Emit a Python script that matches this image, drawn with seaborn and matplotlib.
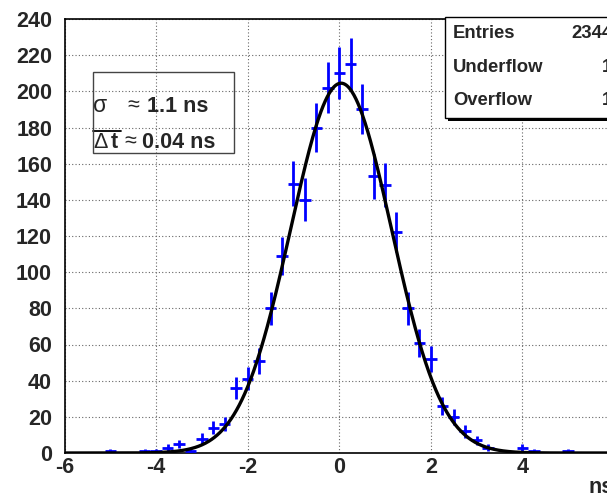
import numpy as np
import pandas as pd
import matplotlib
matplotlib.use("Agg")
import matplotlib.pyplot as plt
from matplotlib.ticker import MultipleLocator
from matplotlib.patches import Rectangle
from matplotlib.lines import Line2D
import seaborn as sns

# ---------------- data ----------------
bin_centers = [-5.0, -4.25, -4.0, -3.75, -3.5, -3.25, -3.0, -2.75, -2.5, -2.25,
               -2.0, -1.75, -1.5, -1.25, -1.0, -0.75, -0.5, -0.25, 0.0, 0.25,
               0.5, 0.75, 1.0, 1.25, 1.5, 1.75, 2.0, 2.25, 2.5, 2.75,
               3.0, 3.25, 4.0, 4.25, 5.0]
counts = [1, 1, 1, 3, 5, 1, 8, 14, 16, 36,
          41, 51, 80, 109, 149, 140, 180, 202, 210, 215,
          190, 153, 148, 122, 80, 61, 52, 26, 20, 12,
          7, 3, 3, 1, 1]
bin_width = 0.25
fit_amplitude = 204.5
fit_mean = 0.04
fit_sigma = 1.1
x_ticks = [-6, -4, -2, 0, 2, 4, 6]
y_ticks = list(range(0, 241, 20))
stats_labels = ["Entries", "Underflow", "Overflow"]
stats_values = ["2344", "1", "1"]
xlabel = "ns"

df = pd.DataFrame({"x": bin_centers, "n": counts})
df["err"] = np.sqrt(df["n"])
fit_x = np.linspace(-6, 6, 800)
fit_df = pd.DataFrame({"x": fit_x,
                       "y": fit_amplitude * np.exp(-0.5 * ((fit_x - fit_mean) / fit_sigma) ** 2)})

# ---------------- style ----------------
sns.set_style("white")
plt.rcParams["font.family"] = ["Liberation Sans", "DejaVu Sans"]
plt.rcParams["axes.unicode_minus"] = False

W, H = 607, 495
fig = plt.figure(figsize=(W / 100, H / 100), dpi=100)
fig.patch.set_facecolor("white")


def fx(px):
    return px / W


def fy(py):
    return 1 - py / H


ax_l, ax_r, ax_t, ax_b = 64.5, 614.0, 19.0, 453.0
ax = fig.add_axes([fx(ax_l), fy(ax_b), fx(ax_r) - fx(ax_l), fy(ax_t) - fy(ax_b)])
ax.set_facecolor("white")

# error bars
ax.errorbar(df["x"], df["n"], yerr=df["err"], xerr=bin_width / 2, fmt="none",
            ecolor="#0000ff", elinewidth=2.0, capsize=0, zorder=3)
# fit curve
sns.lineplot(data=fit_df, x="x", y="y", color="black", linewidth=2.4, ax=ax,
             zorder=4, legend=False)

ax.set_xlim(-6, 6)
ax.set_ylim(0, 240)
ax.set_xticks(x_ticks)
ax.set_xticklabels([str(v) for v in x_ticks], fontweight="bold", fontsize=15.5)
ax.set_yticks(y_ticks)
ax.set_yticklabels([str(v) for v in y_ticks], fontweight="bold", fontsize=15.5)
ax.xaxis.set_minor_locator(MultipleLocator(0.5))
ax.yaxis.set_minor_locator(MultipleLocator(5))
ax.tick_params(which="major", direction="in", length=9, width=1.2, color="black")
ax.tick_params(which="minor", direction="in", length=5.5, width=1.0, color="#333333")
ax.tick_params(axis="x", which="major", pad=3)
ax.tick_params(axis="y", which="major", pad=9)
ax.grid(which="major", linestyle=(0, (1, 2)), color="#666666", linewidth=0.8, zorder=0)
ax.set_axisbelow(True)
for s in ax.spines.values():
    s.set_color("black")
    s.set_linewidth(1.2)
    s.set_visible(True)
ax.set_xlabel(xlabel, fontweight="bold", fontsize=15.5)
ax.set_ylabel("")
ax.xaxis.set_label_coords(1.0, -(477 - ax_b) / (ax_b - ax_t))
ax.xaxis.label.set_horizontalalignment("right")
ax.xaxis.label.set_verticalalignment("top")

# ---------------- left text box ----------------
box = Rectangle((fx(93), fy(152.7)), fx(234) - fx(93), fy(71.7) - fy(152.7),
                transform=fig.transFigure, facecolor="none", edgecolor="#444444",
                linewidth=1.0, zorder=5)
fig.add_artist(box)
tfs = 15.5
fig.text(fx(93), fy(106), "σ", fontsize=tfs + 1, va="center", ha="left")
fig.text(fx(127), fy(106), "≈", fontsize=tfs, va="center", ha="left")
fig.text(fx(147), fy(106), "1.1 ns", fontsize=tfs, fontweight="bold", va="center", ha="left")
fig.text(fx(93), fy(142), "Δ", fontsize=tfs, va="center", ha="left")
fig.text(fx(111), fy(142), "t", fontsize=tfs, fontweight="bold", va="center", ha="left")
fig.text(fx(124), fy(142), "≈", fontsize=tfs, va="center", ha="left")
fig.text(fx(142), fy(142), "0.04 ns", fontsize=tfs, fontweight="bold", va="center", ha="left")
fig.add_artist(Line2D([fx(93), fx(121)], [fy(130.5), fy(130.5)], transform=fig.transFigure,
                      color="black", linewidth=1.3))

# ---------------- stats box ----------------
sb_l, sb_t, sb_r, sb_b = 445, 17, 650, 118
shadow = Rectangle((fx(sb_l + 3), fy(sb_b + 3)), fx(sb_r) - fx(sb_l), fy(sb_t) - fy(sb_b),
                   transform=fig.transFigure, facecolor="black", edgecolor="none", zorder=6)
fig.add_artist(shadow)
sbox = Rectangle((fx(sb_l), fy(sb_b)), fx(sb_r) - fx(sb_l), fy(sb_t) - fy(sb_b),
                 transform=fig.transFigure, facecolor="white", edgecolor="black",
                 linewidth=1.0, zorder=7)
fig.add_artist(sbox)
rows_y = [33.5, 67.5, 100.5]
for lab, val, yy in zip(stats_labels, stats_values, rows_y):
    t1 = fig.text(fx(453), fy(yy), lab, fontsize=13.3, fontweight="bold", va="center", ha="left")
    t2 = fig.text(fx(612), fy(yy), val, fontsize=13.3, fontweight="bold", va="center", ha="right")
    t1.set_zorder(8)
    t2.set_zorder(8)

fig.savefig("out.png", dpi=100, facecolor="white")
